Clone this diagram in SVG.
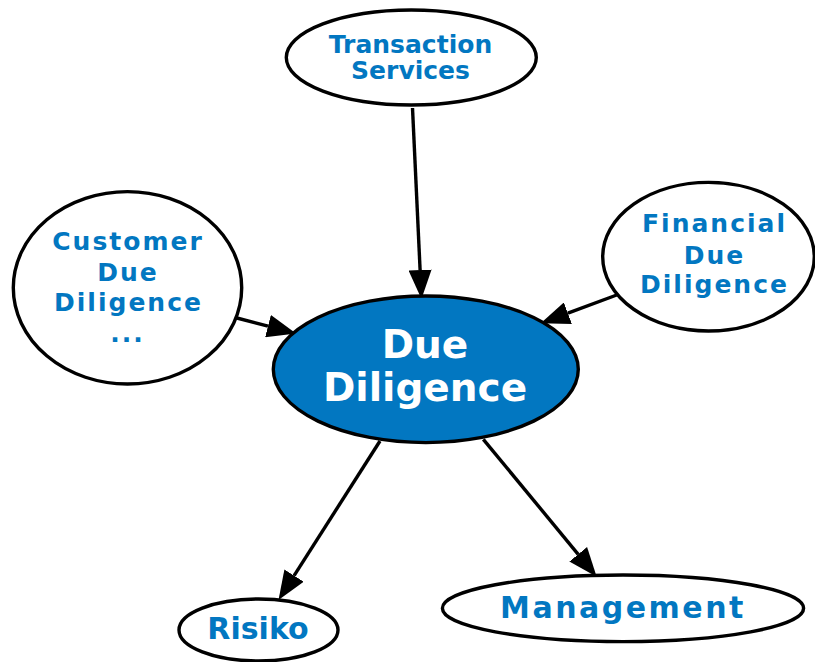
<svg xmlns="http://www.w3.org/2000/svg" width="815" height="662" viewBox="0 0 815 662">
  <style>
    .node ellipse { stroke: #000; stroke-width: 3.4; }
    .plain ellipse { fill: #fff; }
    .hub ellipse { fill: #0277c1; }
    text { font-family: "DejaVu Sans", "Liberation Sans", sans-serif; font-weight: bold; text-anchor: middle; }
    .plain text { fill: #0277c1; font-size: 25px; }
    .hub text { fill: #fff; font-size: 39px; }
    .wide { letter-spacing: 2px; }
    .big { font-size: 30px !important; }
    .edges line { stroke: #000; stroke-width: 3.4; marker-end: url(#head); }
  </style>
  <defs>
    <marker id="head" markerUnits="userSpaceOnUse" markerWidth="29" markerHeight="23" viewBox="0 0 29 23" refX="0" refY="11.5" orient="auto">
      <path d="M0,0 L29,11.5 L0,23 z" fill="#000"/>
    </marker>
  </defs>

  <!-- connectors: line ends at the arrowhead base, marker supplies the head -->
  <g id="edges" class="edges">
    <line x1="412.5" y1="108" x2="420.1" y2="270"/>
    <line x1="235" y1="317.5" x2="268" y2="326.1"/>
    <line x1="616.7" y1="295" x2="567.9" y2="313.2"/>
    <line x1="380" y1="441" x2="294.1" y2="575.6"/>
    <line x1="483.3" y1="439.3" x2="578.2" y2="554.3"/>
  </g>

  <g id="due_diligence" class="node hub">
    <ellipse cx="425.8" cy="369.3" rx="152.5" ry="73.3"/>
    <text x="425" y="358.3">Due</text>
    <text x="425" y="401">Diligence</text>
  </g>

  <g id="transaction_services" class="node plain">
    <ellipse cx="411.3" cy="57.5" rx="125" ry="47.5"/>
    <text x="410.5" y="52.7">Transaction</text>
    <text x="410.5" y="79">Services</text>
  </g>

  <g id="customer_due_diligence" class="node plain">
    <ellipse cx="127.5" cy="287.8" rx="114.2" ry="96.2"/>
    <text class="wide" x="128" y="250">Customer</text>
    <text class="wide" x="128" y="281">Due</text>
    <text class="wide" x="128.5" y="310.7">Diligence</text>
    <text class="wide" x="127.5" y="341.7">...</text>
  </g>

  <g id="financial_due_diligence" class="node plain">
    <ellipse cx="708.5" cy="256.7" rx="105.8" ry="74.3"/>
    <text class="wide" x="714.5" y="231.7">Financial</text>
    <text class="wide" x="714.5" y="264.3">Due</text>
    <text class="wide" x="714.5" y="293.3">Diligence</text>
  </g>

  <g id="risiko" class="node plain">
    <ellipse cx="258.5" cy="630" rx="79.5" ry="31"/>
    <text class="big" x="258" y="639">Risiko</text>
  </g>

  <g id="management" class="node plain">
    <ellipse cx="623" cy="608.3" rx="180.6" ry="33.3"/>
    <text class="big" x="623" y="618.3" style="letter-spacing:2.5px">Management</text>
  </g>
</svg>
